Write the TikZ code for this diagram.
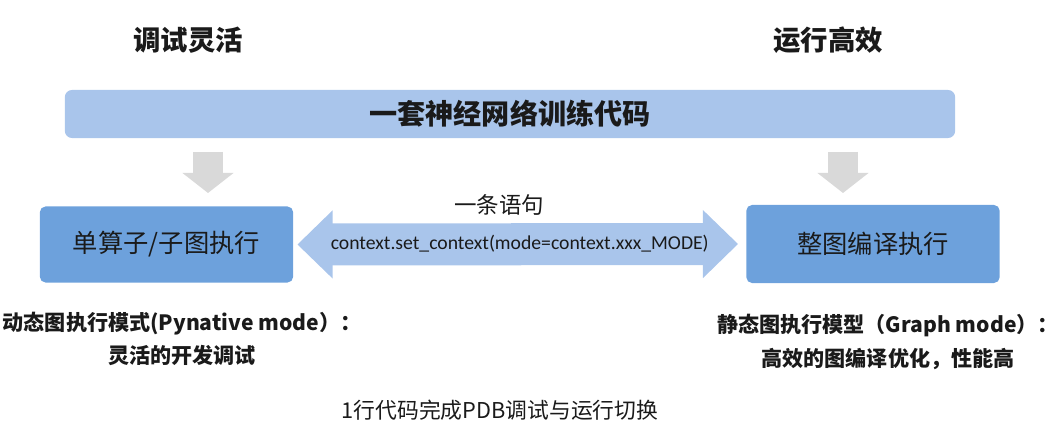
\documentclass[tikz,border=0pt]{standalone}
\usepackage{fontspec}
\setmainfont{Noto Sans CJK SC}
\newfontfamily\codefont{Carlito}
\usetikzlibrary{positioning,calc,arrows.meta}
\definecolor{barblue}{HTML}{A9C5EB}
\definecolor{boxblue}{HTML}{6DA1DC}
\definecolor{arrowgray}{HTML}{D9D9D9}
\definecolor{inkcol}{HTML}{1A1A1A}

\begin{document}
\begin{tikzpicture}[x=0.025cm,y=-0.025cm,
    headline/.style={text=inkcol,font=\bfseries\fontsize{19.5}{23}\selectfont},
    modebox/.style={fill=boxblue,rounded corners=4pt,inner sep=0pt,
        minimum width=6.33cm,minimum height=1.9cm,text=inkcol,
        font=\fontsize{18}{22}\selectfont},
    downarrow/.style={draw=arrowgray,line width=0.75cm,
        -{Triangle[length=0.5cm,width=1.25cm]}},
    switcharrow/.style={draw=barblue,line width=1.05cm,
        {Triangle[length=0.88cm,width=1.65cm]}-{Triangle[length=0.88cm,width=1.65cm]}},
    note/.style={text=inkcol,align=center,font=\bfseries\fontsize{15}{24}\selectfont}]
  \useasboundingbox (0,0) rectangle (1060,432);
  % titles
  \node[headline] (debug) at (188,40) {调试灵活};
  \node[headline] (speed) at (828,40) {运行高效};
  % shared training code
  \node[fill=barblue,rounded corners=5pt,minimum width=22.25cm,minimum height=1.2cm,
        inner sep=0pt,text=inkcol,font=\bfseries\fontsize{20}{24}\selectfont]
        (code) at (510,114) {一套神经网络训练代码};
  % execution modes
  \node[modebox] (single) at (166.5,244.5) {单算子/子图执行};
  \node[modebox,minimum height=1.95cm] (whole) at (873,244) {整图编译执行};
  % gray arrows
  \coordinate (la) at (208,152);
  \coordinate (lb) at (208,193);
  \coordinate (ra) at (843,152);
  \coordinate (rb) at (843,193);
  \draw[downarrow] (la) -- (lb);
  \draw[downarrow] (ra) -- (rb);
  % switch
  \draw[switcharrow] ([xshift=0.1cm]single.east) -- ([xshift=-0.2cm]whole.west);
  \node[text=inkcol,font=\codefont\fontsize{14}{17}\selectfont] (ctx)
        at ($(single.east)!0.5!(whole.west)+(0,-1)$)
        {context.set\_context(mode=context.xxx\_MODE)};
  \node[text=inkcol,font=\fontsize{16}{20}\selectfont] (stmt) at (499,205) {一条语句};
  % descriptions
  \node[note] (dyn) at (182,339) {动态图执行模式(Pynative mode）：\\灵活的开发调试};
  \node[note] (sta) at (888,342) {静态图执行模型（Graph mode）：\\高效的图编译优化，性能高};
  \node[text=inkcol,font=\fontsize{15.5}{18}\selectfont] (pdb) at (500,410)
        {1行代码完成PDB调试与运行切换};
\end{tikzpicture}
\end{document}
